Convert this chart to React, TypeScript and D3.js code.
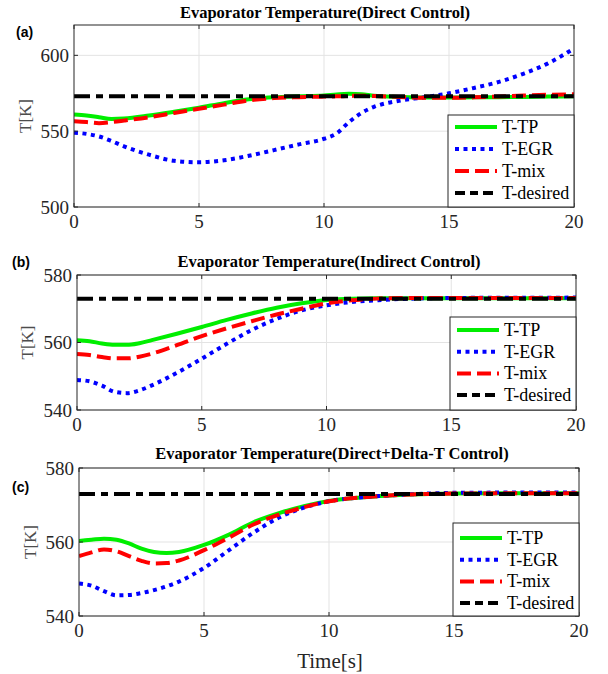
import React from 'react';
import * as d3 from 'd3';

// ---- data ----
const seriesNames = ['T-TP', 'T-EGR', 'T-mix', 'T-desired'];
const desiredT = 573;

const timeA = [0, 0.5, 1, 1.5, 2, 3, 4, 5, 6, 7, 8, 9, 10, 10.5, 11, 11.5, 12, 13, 14, 15, 16, 17, 18, 19, 20];
const tpA = [561, 560.3, 559.2, 558, 558.3, 560.3, 562.8, 565.5, 568.5, 571, 572.3, 573, 573.6, 574.2, 574.6, 574.3, 573.3, 572.6, 572.2, 572.2, 572.3, 572.4, 572.6, 572.8, 573];
const egrA = [549, 548.2, 546.5, 543.5, 540, 534.5, 530.5, 529.5, 530.8, 533.8, 537.5, 541.3, 545, 548.5, 556, 562, 566, 570, 572.3, 575, 578.5, 582.5, 588, 595, 604.5];
const mixA = [556.5, 556, 555.3, 556, 557, 559.2, 562, 564.8, 567.5, 570.3, 571.8, 572.4, 572.8, 573, 573.2, 573.4, 573.2, 572.6, 572, 572, 572.3, 572.8, 573.5, 574, 574.3];

const timeB = [0, 0.5, 1, 1.5, 2, 2.5, 3, 4, 5, 6, 7, 8, 9, 10, 11, 12, 13, 14, 15, 20];
const tpB = [560.7, 560.4, 559.7, 559.3, 559.3, 559.8, 560.7, 562.6, 564.6, 566.7, 568.6, 570.3, 571.6, 572.6, 573, 573.1, 573.1, 573.1, 573.1, 573.1];
const egrB = [548.9, 548.5, 547.2, 545.4, 545, 545.8, 547.3, 551, 555.2, 559.6, 563.7, 567, 569.5, 571, 572, 572.5, 572.9, 573.1, 573.2, 573.3];
const mixB = [556.6, 556.3, 555.7, 555.3, 555.3, 555.8, 556.7, 559.2, 561.9, 564.2, 566.3, 568.3, 570, 571.6, 572.5, 573, 573.2, 573.2, 573.2, 573.2];

const timeC = [0, 0.5, 1, 1.5, 2, 2.5, 3, 3.5, 4, 5, 6, 7, 8, 9, 10, 11, 12, 13, 14, 15, 20];
const tpC = [560.3, 560.6, 560.9, 560.6, 559.6, 558.2, 557.3, 557, 557.3, 559.2, 562, 565.4, 567.8, 569.7, 571.1, 571.9, 572.4, 572.8, 573, 573.1, 573.2];
const egrC = [548.8, 548.2, 546.7, 545.6, 545.7, 546.2, 547, 548, 549.3, 553, 557.8, 562.6, 566.6, 569.3, 571, 571.9, 572.4, 572.8, 573.1, 573.3, 573.4];
const mixC = [556.2, 557.2, 558, 557.5, 556.2, 554.9, 554.2, 554.3, 555, 557.8, 561.2, 564.8, 567.4, 569.4, 571, 571.9, 572.4, 572.8, 573, 573.1, 573.2];

const xTicks = [0, 5, 10, 15, 20];
const yTicksA = [500, 550, 600];
const yTicksBC = [540, 560, 580];

// ---- styles ----
const colors = ['#00ee00', '#0000ff', '#ff0000', '#000000'];
const dashes = ['none', '4,4.5', '14,6', '16,6,7,6'];
const serif = '"Liberation Serif", "Times New Roman", serif';

const panels = [
  { tag: '(a)', title: 'Evaporator Temperature(Direct Control)', time: timeA, tp: tpA, egr: egrA, mix: mixA,
    yDomain: [500, 620], yTicks: yTicksA, left: 74, right: 574, top: 25, bottom: 207,
    titleX: 325, titleY: 18, tagY: 37, labelX: 25, legTop: 115, rowGap: 22, legFirst: 12 },
  { tag: '(b)', title: 'Evaporator Temperature(Indirect Control)', time: timeB, tp: tpB, egr: egrB, mix: mixB,
    yDomain: [540, 580], yTicks: yTicksBC, left: 77, right: 576, top: 275, bottom: 410,
    titleX: 329, titleY: 267, tagY: 267, labelX: 27, legTop: 317, rowGap: 21.7, legFirst: 13 },
  { tag: '(c)', title: 'Evaporator Temperature(Direct+Delta-T Control)', time: timeC, tp: tpC, egr: egrC, mix: mixC,
    yDomain: [540, 580], yTicks: yTicksBC, left: 79, right: 579, top: 468, bottom: 616,
    titleX: 332, titleY: 459, tagY: 492, labelX: 30, legTop: 523, rowGap: 21.7, legFirst: 15 },
];

const Panel = ({ p, last }) => {
  const x = d3.scaleLinear().domain([0, 20]).range([p.left, p.right]);
  const y = d3.scaleLinear().domain(p.yDomain).range([p.bottom, p.top]);
  const line = d3.line().x(d => x(d[0])).y(d => y(d[1])).curve(d3.curveMonotoneX);
  const seriesVals = [p.tp, p.egr, p.mix, p.time.map(() => desiredT)];
  const legLeft = p.right - 126;
  const clipId = 'clip' + p.tag.replace(/[()]/g, '');

  return (
    <g>
      <defs>
        <clipPath id={clipId}>
          <rect x={p.left} y={p.top} width={p.right - p.left} height={p.bottom - p.top} />
        </clipPath>
      </defs>
      {/* grid */}
      {xTicks.slice(1, -1).map(t => (
        <line key={'gx' + t} x1={x(t)} x2={x(t)} y1={p.top} y2={p.bottom} stroke="#e3e3e3" strokeWidth={1} />
      ))}
      {p.yTicks.map(t => (
        <line key={'gy' + t} x1={p.left} x2={p.right} y1={y(t)} y2={y(t)} stroke="#e3e3e3" strokeWidth={1} />
      ))}
      {/* series */}
      <g clipPath={`url(#${clipId})`}>
        {seriesVals.map((vals, i) => (
          <path key={seriesNames[i]} d={line(p.time.map((t, k) => [t, vals[k]]))} fill="none"
            stroke={colors[i]} strokeWidth={4} strokeDasharray={dashes[i]} />
        ))}
      </g>
      {/* ticks */}
      {xTicks.map(t => (
        <g key={'tx' + t}>
          <line x1={x(t)} x2={x(t)} y1={p.bottom} y2={p.bottom - 4} stroke="#262626" />
          <line x1={x(t)} x2={x(t)} y1={p.top} y2={p.top + 4} stroke="#262626" />
          <text x={x(t)} y={p.bottom + 21} textAnchor="middle" fontFamily={serif} fontSize={19} fill="#262626">{t}</text>
        </g>
      ))}
      {p.yTicks.map(t => (
        <g key={'ty' + t}>
          <line x1={p.left} x2={p.left + 4} y1={y(t)} y2={y(t)} stroke="#262626" />
          <line x1={p.right} x2={p.right - 4} y1={y(t)} y2={y(t)} stroke="#262626" />
          <text x={p.left - 5} y={y(t) + 6.5} textAnchor="end" fontFamily={serif} fontSize={19} fill="#262626">{t}</text>
        </g>
      ))}
      <rect x={p.left} y={p.top} width={p.right - p.left} height={p.bottom - p.top} fill="none" stroke="#262626" strokeWidth={1} />
      {/* legend */}
      <rect x={legLeft} y={p.legTop} width={p.right - legLeft} height={p.bottom - p.legTop} fill="#fff" stroke="#262626" strokeWidth={1} />
      {seriesNames.map((name, i) => {
        const ry = p.legTop + p.legFirst + i * p.rowGap;
        return (
          <g key={'lg' + name}>
            <line x1={legLeft + 7} x2={legLeft + 49} y1={ry} y2={ry} stroke={colors[i]} strokeWidth={4}
              strokeDasharray={i === 3 ? '10,5,8,5' : i === 2 ? '14,6' : dashes[i]} />
            <text x={legLeft + 54} y={ry + 6} fontFamily={serif} fontSize={18} fill="#000">{name}</text>
          </g>
        );
      })}
      {/* labels */}
      <text x={p.titleX} y={p.titleY} textAnchor="middle" fontFamily={serif} fontWeight="bold" fontSize={16.5} fill="#000">{p.title}</text>
      <text x={p.tag === '(a)' ? 16 : 12} y={p.tagY} fontFamily='"Liberation Sans", Arial, sans-serif' fontWeight="bold" fontSize={14} fill="#000">{p.tag}</text>
      <text transform={`translate(${p.labelX + 6},${(p.top + p.bottom) / 2}) rotate(-90)`} textAnchor="middle"
        fontFamily={serif} fontSize={17} fill="#4d4d4d">T[K]</text>
      {last && (
        <text x={330} y={668} textAnchor="middle" fontFamily={serif} fontSize={21} fill="#262626">Time[s]</text>
      )}
    </g>
  );
};

export default function App() {
  return (
    <svg width={608} height={674} style={{ position: 'absolute', left: 0, top: 0, background: '#fff' }}>
      <rect width={608} height={674} fill="#fff" />
      {panels.map((p, i) => <Panel key={p.tag} p={p} last={i === panels.length - 1} />)}
    </svg>
  );
}
